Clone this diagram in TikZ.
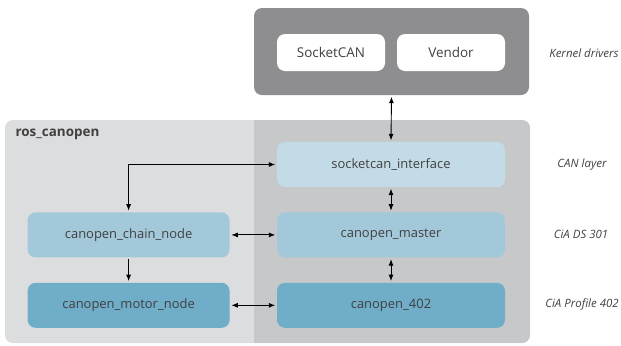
\documentclass[tikz,border=0pt]{standalone}
\usepackage{fontspec}
\setmainfont{Open Sans}
\usepackage{tikz}
\usetikzlibrary{arrows.meta, positioning}
\definecolor{kernelgray}{HTML}{8E8E90}
\definecolor{roslight}{HTML}{DCDDDF}
\definecolor{rosdark}{HTML}{C7C8CA}
\definecolor{canpale}{HTML}{C3DBE6}
\definecolor{canmid}{HTML}{A2C8DA}
\definecolor{candeep}{HTML}{70ADC8}
\definecolor{txtgray}{HTML}{404040}

\begin{document}
\begin{tikzpicture}[
    x=1bp, y=-1bp,
    node distance=25bp,
    pkg/.style={rounded corners=8bp, minimum height=45bp, minimum width=228bp,
        inner sep=0pt, text=txtgray, font=\fontsize{13}{15}\selectfont},
    drv/.style={rounded corners=8bp, fill=white, minimum height=37bp,
        minimum width=108bp, inner sep=0pt, text=txtgray,
        font=\fontsize{13.5}{15}\selectfont},
    layer/.style={text=txtgray, font=\itshape\fontsize{11.5}{13}\selectfont},
    arr/.style={{Latex[length=6.5bp,width=5bp]}-{Latex[length=6.5bp,width=5bp]},
        line width=0.9bp, shorten <=1.5bp, shorten >=1.5bp},
    onearr/.style={-{Latex[length=6.5bp,width=5bp]}, line width=0.9bp,
        shorten <=1.5bp, shorten >=1.5bp}
]
\useasboundingbox (0,0) rectangle (621,345);

% ros_canopen area
\fill[roslight, rounded corners=8bp] (5,120) rectangle (530,343);
\begin{scope}
  \clip[rounded corners=8bp] (5,120) rectangle (530,343);
  \fill[rosdark] (254,120) rectangle (530,343);
\end{scope}
\node[anchor=west, font=\bfseries\fontsize{13.5}{15}\selectfont, text=txtgray] (ros) at (12,134) {ros\_canopen};

% kernel drivers
\node[fill=kernelgray, rounded corners=8bp, minimum width=275bp, minimum height=87bp] (kernel) at (391.5,51.5) {};
\node[drv] (socketcan) at (331,52.5) {SocketCAN};
\node[drv] (vendor) at (451,52.5) {Vendor};

% packages
\node[pkg, fill=canpale] (iface) at (391,164.5) {socketcan\_interface};
\node[pkg, fill=canmid, below=of iface] (master) {canopen\_master};
\node[pkg, fill=candeep, below=of master] (cia402) {canopen\_402};
\node[pkg, fill=canmid, minimum width=202bp, left=47bp of master] (chain) {canopen\_chain\_node};
\node[pkg, fill=candeep, minimum width=202bp, left=47bp of cia402] (motor) {canopen\_motor\_node};

% layer labels
\node[layer] (lkernel) at (584,53) {Kernel drivers};
\node[layer] (lcan) at (582,164.5) {CAN layer};
\node[layer] (l301) at (581,234.5) {CiA DS 301};
\node[layer] (l402) at (582,304.5) {CiA Profile 402};

\draw[arr] (kernel.south) -- (iface.north);
\draw[arr] (iface.south) -- (master.north);
\draw[arr] (master.south) -- (cia402.north);
\draw[arr] (chain.east) -- (master.west);
\draw[arr] (motor.east) -- (cia402.west);
\draw[onearr] (chain.south) -- (motor.north);
\draw[arr] (iface.west) -| (chain.north);
\end{tikzpicture}
\end{document}
